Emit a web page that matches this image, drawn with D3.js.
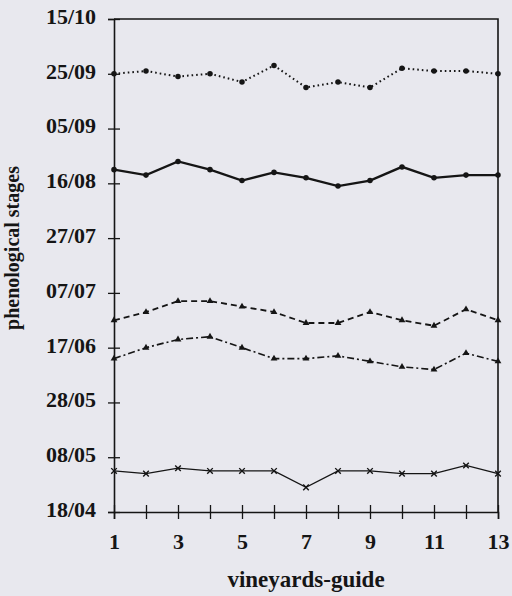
<!DOCTYPE html>
<html>
<head>
<meta charset="utf-8">
<script src="https://cdn.jsdelivr.net/npm/d3@7"></script>
<style>
  body { margin: 0; background: #e8e8ee; }
  svg { display: block; }
  text { font-family: "Liberation Serif", "Times New Roman", serif; font-weight: bold; fill: #151515; }
</style>
</head>
<body>
<div id="chart"></div>
<script>
// vineyards 1..13
const vineyards = [1, 2, 3, 4, 5, 6, 7, 8, 9, 10, 11, 12, 13]
const xTickLabels = [1, 3, 5, 7, 9, 11, 13]
const yTickLabels = ["18/04", "08/05", "28/05", "17/06", "07/07", "27/07", "16/08", "05/09", "25/09", "15/10"]

// phenological dates (dd/mm)
const harvest   = ["25/09", "26/09", "24/09", "25/09", "22/09", "28/09", "20/09", "22/09", "20/09", "27/09", "26/09", "26/09", "25/09"]
const veraison  = ["21/08", "19/08", "24/08", "21/08", "17/08", "20/08", "18/08", "15/08", "17/08", "22/08", "18/08", "19/08", "19/08"]
const fruitSet  = ["27/06", "30/06", "04/07", "04/07", "02/07", "30/06", "26/06", "26/06", "30/06", "27/06", "25/06", "01/07", "27/06"]
const flowering = ["13/06", "17/06", "20/06", "21/06", "17/06", "13/06", "13/06", "14/06", "12/06", "10/06", "09/06", "15/06", "12/06"]
const budburst  = ["03/05", "02/05", "04/05", "03/05", "03/05", "03/05", "27/04", "03/05", "03/05", "02/05", "02/05", "05/05", "02/05"]

const parseDay = s => d3.timeParse("%d/%m/%Y")(s + "/2001")

const margin = {top: 19, right: 14, bottom: 84, left: 114}
const width = 512 - margin.left - margin.right
const height = 596 - margin.top - margin.bottom

const svg = d3.select("#chart").append("svg")
    .attr("width", 512)
    .attr("height", 596)

const g = svg.append("g")
    .attr("transform", `translate(${margin.left},${margin.top})`)

const xScale = d3.scaleLinear()
    .domain(d3.extent(vineyards))
    .range([0, width])

const yScale = d3.scaleTime()
    .domain([parseDay(yTickLabels[0]), parseDay(yTickLabels[yTickLabels.length - 1])])
    .range([height, 0])

// frame (top + right)
g.append("path")
    .attr("d", `M0,0H${width}V${height}`)
    .attr("fill", "none")
    .attr("stroke", "#151515")
    .attr("stroke-width", 1.6)

// axes
const xAxis = d3.axisBottom(xScale)
    .tickValues(vineyards)
    .tickSize(7)
    .tickFormat(d => xTickLabels.includes(d) ? d : "")

const yAxis = d3.axisLeft(yScale)
    .tickValues(yTickLabels.map(parseDay))
    .tickSize(6)
    .tickFormat(d3.timeFormat("%d/%m"))

const xGroup = g.append("g")
    .attr("transform", `translate(0,${height})`)
    .call(xAxis)
xGroup.selectAll(".tick line").attr("y1", -7).attr("stroke-width", 1.3)
xGroup.selectAll(".tick text").attr("dy", "1.22em")

const yGroup = g.append("g").call(yAxis)
yGroup.selectAll(".tick line").attr("x1", 6).attr("stroke-width", 1.3)
yGroup.selectAll(".tick text").attr("x", -18).attr("dy", "0.2em")

g.selectAll(".domain").attr("stroke", "#151515").attr("stroke-width", 1.6)
g.selectAll(".tick line").attr("stroke", "#151515")
g.selectAll(".tick text")
    .style("font-family", '"Liberation Serif", serif')
    .style("font-weight", "bold")
    .style("font-size", "22px")
    .attr("fill", "#151515")

// axis titles
svg.append("text")
    .attr("x", margin.left + width / 2)
    .attr("y", 587)
    .attr("text-anchor", "middle")
    .style("font-size", "23px")
    .text("vineyards-guide")

svg.append("text")
    .attr("transform", `translate(19,${margin.top + 229}) rotate(-90)`)
    .attr("text-anchor", "middle")
    .style("font-size", "20px")
    .text("phenological stages")

// series
const series = [
    {name: "harvest", values: harvest, dash: "1.6,3", width: 2, marker: "dot"},
    {name: "veraison", values: veraison, dash: null, width: 2.4, marker: "dot"},
    {name: "fruitSet", values: fruitSet, dash: "6,4", width: 1.8, marker: "tri"},
    {name: "flowering", values: flowering, dash: "7,3,2,3", width: 1.6, marker: "tri"},
    {name: "budburst", values: budburst, dash: null, width: 1.3, marker: "cross"}
]

const line = d3.line()
    .x((d, i) => xScale(vineyards[i]))
    .y(d => yScale(parseDay(d)))

series.forEach(s => {
    g.append("path")
        .datum(s.values)
        .attr("fill", "none")
        .attr("stroke", "#151515")
        .attr("stroke-width", s.width)
        .attr("stroke-dasharray", s.dash)
        .attr("d", line)

    const pts = g.append("g").selectAll("path")
        .data(s.values)
        .join("path")
        .attr("transform", (d, i) => `translate(${xScale(vineyards[i])},${yScale(parseDay(d))})`)

    if (s.marker === "dot") {
        pts.attr("d", d3.symbol(d3.symbolCircle, 24)).attr("fill", "#151515")
    } else if (s.marker === "tri") {
        pts.attr("d", d3.symbol(d3.symbolTriangle, 20)).attr("fill", "#151515")
    } else {
        pts.attr("d", d3.symbol(d3.symbolTimes, 22))
            .attr("fill", "none").attr("stroke", "#151515").attr("stroke-width", 1.4)
    }
})
</script>
</body>
</html>
